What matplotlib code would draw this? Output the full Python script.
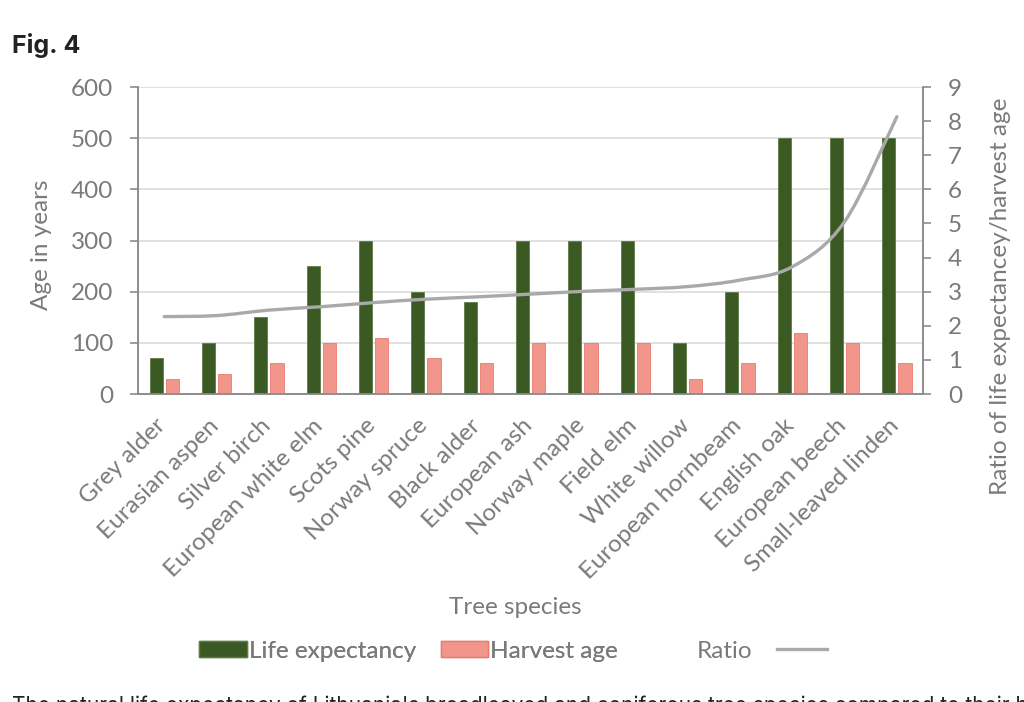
import numpy as np
import matplotlib.pyplot as plt
import matplotlib.transforms as mtransforms
from matplotlib.path import Path
from matplotlib.patches import PathPatch
from matplotlib.lines import Line2D

plt.rcParams['font.family'] = ['Lato', 'DejaVu Sans']

species = ["Grey alder", "Eurasian aspen", "Silver birch", "European white elm",
           "Scots pine", "Norway spruce", "Black alder", "European ash",
           "Norway maple", "Field elm", "White willow", "European hornbeam",
           "English oak", "European beech", "Small-leaved linden"]
life_expectancy = [70, 100, 150, 250, 300, 200, 180, 300, 300, 300, 100, 200, 500, 500, 500]
harvest_age = [30, 40, 60, 100, 110, 70, 60, 100, 100, 100, 30, 60, 120, 100, 60]
ratio = [2.27, 2.3, 2.46, 2.56, 2.68, 2.78, 2.85, 2.93, 3.01, 3.07, 3.15, 3.34, 3.73, 5.05, 8.13]

GREEN = "#3b5a23"
PINK = "#f2968b"
PINK_EDGE = "#e77b70"
LINE = "#a9a9a9"
TXT = "#7a7a7a"
AX = "#8c8c8c"
FS = 17.5

fig = plt.figure(figsize=(10.24, 7.02), dpi=100)
ax = fig.add_axes([0.1348, 0.4387, 0.7666, 0.4373])
ax2 = ax.twinx()

x = np.arange(len(species))
w = 0.25
ax.bar(x - 0.155, life_expectancy, w, color=GREEN, edgecolor="#5e7a45", linewidth=0.6, zorder=3)
ax.bar(x + 0.155, harvest_age, w, color=PINK, edgecolor=PINK_EDGE, linewidth=0.6, zorder=3)

# smoothed ratio line (Excel-style bezier through the points)
pts = np.column_stack([x, ratio]).astype(float)
ext = np.vstack([pts[0], pts, pts[-1]])
verts = [tuple(pts[0])]
codes = [Path.MOVETO]
for i in range(len(pts) - 1):
    p0, p1, p2, p3 = ext[i], ext[i + 1], ext[i + 2], ext[i + 3]
    c1 = p1 + (p2 - p0) / 6
    c2 = p2 - (p3 - p1) / 6
    verts += [tuple(c1), tuple(c2), tuple(p2)]
    codes += [Path.CURVE4] * 3
ax2.add_patch(PathPatch(Path(verts, codes), facecolor="none", edgecolor=LINE,
                        linewidth=2.4, capstyle="round", zorder=4))

ax.set_xlim(-0.5, len(species) - 0.5)
ax.set_ylim(0, 600)
ax.set_yticks(range(0, 601, 100))
ax2.set_ylim(0, 9)
ax2.set_yticks(range(0, 10))
ax.grid(axis="y", color="#dcdcdc", linewidth=1.2, zorder=0)
ax.set_axisbelow(True)

ax.set_xticks(x)
ax.set_xticklabels(species, rotation=45, ha="right", rotation_mode="anchor",
                   fontsize=17.5, color=TXT)
ax.tick_params(axis="x", length=0, pad=15)
shift = mtransforms.ScaledTranslation(-0.09, 0, fig.dpi_scale_trans)
for lab in ax.get_xticklabels():
    lab.set_transform(lab.get_transform() + shift)
ax.tick_params(axis="y", colors=AX, labelcolor=TXT, labelsize=FS, length=6, width=1.2, pad=12)
ax2.tick_params(axis="y", colors=AX, labelcolor=TXT, labelsize=FS, length=6, width=1.2, pad=12)

for a in (ax, ax2):
    a.spines["top"].set_visible(False)
    for s in ("left", "right", "bottom"):
        a.spines[s].set_color(AX)
        a.spines[s].set_linewidth(1.2)

ax.set_ylabel("Age in years", fontsize=FS, color=TXT)
ax.yaxis.set_label_coords(-0.11, 0.485)
ax2.set_ylabel("Ratio of life expectancey/harvest age", fontsize=FS, color=TXT)
ax2.yaxis.set_label_coords(1.085, 0.319)
fig.text(0.503, 1 - 607 / 702, "Tree species", fontsize=FS, color=TXT, ha="center", va="center")

fig.text(0.012, 1 - 45 / 702, "Fig. 4", fontsize=18, fontweight="bold", color="#222222",
         family=["Inter", "DejaVu Sans"], va="center")

h1 = [plt.Rectangle((0, 0), 1, 1, facecolor=GREEN, edgecolor="#5e7a45"),
      plt.Rectangle((0, 0), 1, 1, facecolor=PINK, edgecolor=PINK_EDGE)]
leg1 = fig.legend(h1, ["Life expectancy", "Harvest age"], loc="center left",
                  bbox_to_anchor=(0.1826, 1 - 651 / 702), ncol=2, frameon=False,
                  fontsize=FS, handlelength=1.95, handleheight=0.66, handletextpad=0.1,
                  columnspacing=1.0, borderpad=0, labelcolor=TXT)
fig.legend([Line2D([0], [0], color=LINE, linewidth=2.4)], ["Ratio"], loc="center left",
           bbox_to_anchor=(0.669, 1 - 651 / 702), frameon=False, fontsize=FS,
           markerfirst=False, handlelength=2.05, handletextpad=1.0, borderpad=0,
           labelcolor=TXT)
fig.add_artist(leg1)

fig.text(0.012, -0.006, "The natural life expectancy of Lithuania's broadleaved and coniferous tree "
         "species compared to their harvest age", fontsize=15, color="#222222", va="center",
         family=["Inter", "DejaVu Sans"])

fig.savefig("out.png", dpi=100)
